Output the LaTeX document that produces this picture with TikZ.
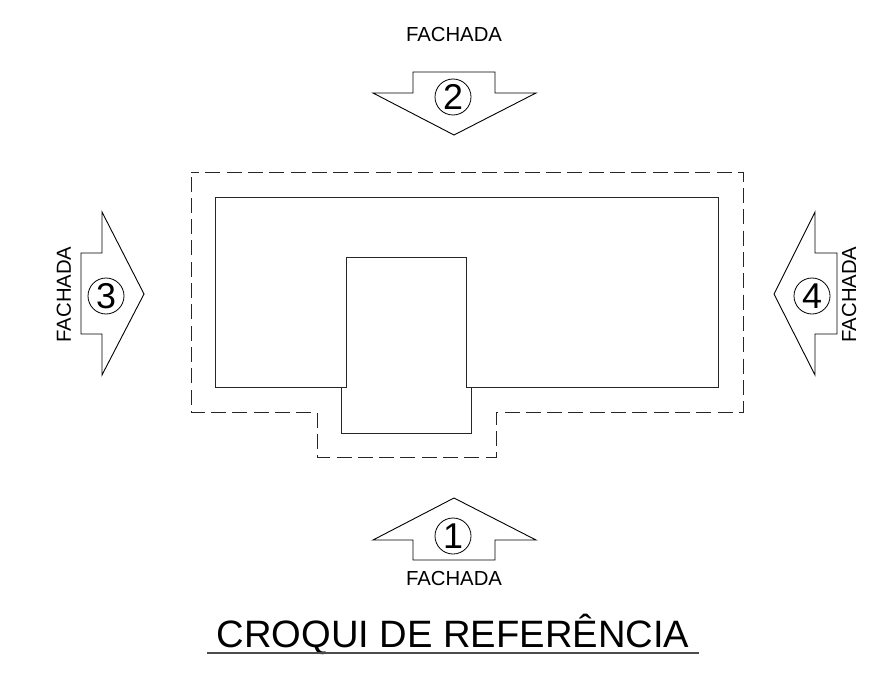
\documentclass[tikz,border=0pt]{standalone}
\usepackage{fontspec}
\setmainfont{Liberation Sans}
\tikzset{
  planline/.style={line width=1bp, color=black!85},
  planedge/.style={line width=1bp, color=black!85, dash pattern=on 15bp off 6.3bp},
  setabody/.style={line width=0.9bp, color=black},
  setanum/.style={circle, draw, line width=0.8bp, minimum size=36bp, inner sep=0pt, font=\fontsize{36}{36}\selectfont},
  setatext/.style={font=\fontsize{20.4}{20.4}\selectfont, inner sep=0pt}
}
\begin{document}
\begin{tikzpicture}[x=1bp, y=-1bp]
          \useasboundingbox (0,0) rectangle (892,675);

          % planta
          \draw [planline] (215,197) -- (718,197) -- (718,387.7) -- (466.7,387.7) -- (466.7,257.7) -- (346,257.7) -- (346,387.7) -- (215,387.7) -- cycle;
          \draw [planline] (341.7,387.7) -- (341.7,433) -- (471.7,433) -- (471.7,387.7);
          \draw [planedge, dash phase=7bp] (191,172) -- (743,172) -- (743,412) -- (496,412) -- (496,457) -- (317,457) -- (317,412) -- (191,412) -- cycle;

          % setas
          \draw [setabody] (413,72) -- (495,72) -- (495,93) -- (536,93) -- (454,135) -- (373,93) -- (413,93) -- cycle;
          \draw [setabody] (454,498) -- (536,540) -- (495,540) -- (495,560) -- (413,560) -- (413,540) -- (373,540) -- cycle;
          \draw [setabody] (81,253) -- (102,253) -- (102,212) -- (144,294) -- (102,375) -- (102,334) -- (81,334) -- cycle;
          \draw [setabody] (837,253) -- (815,253) -- (815,212) -- (774,294) -- (815,375) -- (815,334) -- (837,334) -- cycle;

          \node [setanum] (num1) at (453,536) {1};
          \node [setanum] (num2) at (453,97) {2};
          \node [setanum] (num3) at (106,296) {3};
          \node [setanum] (num4) at (812,296) {4};

          \node [setatext] (fachada1) at (454,578.5) {FACHADA};
          \node [setatext] (fachada2) at (454,34.5) {FACHADA};
          \node [setatext, rotate=90] (fachada3) at (64,294.5) {FACHADA};
          \node [setatext, rotate=90] (fachada4) at (849,294.5) {FACHADA};

          % titulo
          \node [font=\fontsize{38.3}{38.3}\selectfont, inner sep=0pt, anchor=base] (titulo) at (453,647) {CROQUI DE REFERÊNCIA};
          \draw [line width=1.2bp, color=black!70] (207,653) -- (699,653);
\end{tikzpicture}
\end{document}
